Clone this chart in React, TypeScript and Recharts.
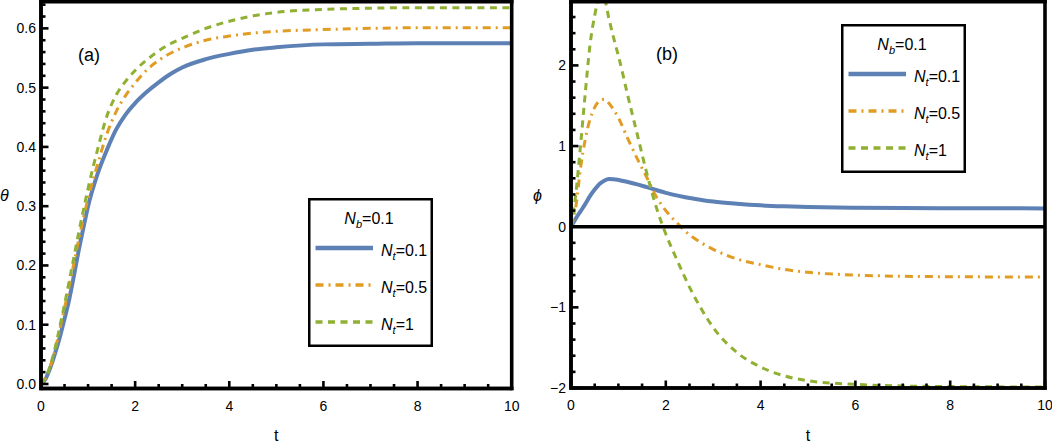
import React from 'react';
import { LineChart, Line, XAxis, YAxis, ReferenceLine, Legend } from 'recharts';

const FONT = "'Liberation Sans', Arial, Helvetica, sans-serif";

// ---- data ----
const tValues = [0, 0.1, 0.2, 0.3, 0.4, 0.5, 0.6, 0.7, 0.8, 0.9, 1, 1.2, 1.4, 1.6, 1.8, 2, 2.25, 2.5, 2.75, 3, 3.5, 4, 4.5, 5, 6, 7, 8, 9, 10];

const thetaNt01 = [0, 0.009, 0.028, 0.052, 0.079, 0.11, 0.143, 0.183, 0.225, 0.263, 0.3, 0.354, 0.395, 0.43, 0.455, 0.474, 0.493, 0.509, 0.523, 0.534, 0.548, 0.557, 0.564, 0.568, 0.573, 0.574, 0.575, 0.575, 0.575];
const thetaNt05 = [0, 0.01, 0.03, 0.058, 0.093, 0.128, 0.166, 0.204, 0.243, 0.28, 0.313, 0.37, 0.422, 0.46, 0.487, 0.508, 0.53, 0.546, 0.558, 0.567, 0.58, 0.587, 0.592, 0.595, 0.598, 0.6, 0.601, 0.601, 0.601];
const thetaNt1 = [0, 0.011, 0.032, 0.061, 0.097, 0.134, 0.174, 0.214, 0.255, 0.293, 0.33, 0.395, 0.452, 0.488, 0.511, 0.529, 0.547, 0.562, 0.574, 0.583, 0.6, 0.612, 0.621, 0.627, 0.632, 0.634, 0.635, 0.635, 0.635];

const phiNt01 = [0, 0.1, 0.19, 0.28, 0.38, 0.46, 0.53, 0.57, 0.59, 0.588, 0.58, 0.555, 0.525, 0.49, 0.455, 0.42, 0.385, 0.355, 0.332, 0.312, 0.285, 0.265, 0.253, 0.245, 0.236, 0.231, 0.229, 0.228, 0.227];
const phiNt05 = [0, 0.24, 0.72, 1.08, 1.33, 1.48, 1.56, 1.58, 1.53, 1.45, 1.35, 1.09, 0.84, 0.61, 0.37, 0.2, 0.04, -0.1, -0.2, -0.28, -0.4, -0.47, -0.53, -0.565, -0.6, -0.615, -0.62, -0.623, -0.625];
const phiNt1 = [0, 0.4, 1.0, 1.65, 2.25, 2.62, 2.85, 2.83, 2.58, 2.34, 2.12, 1.62, 1.14, 0.66, 0.24, -0.09, -0.43, -0.75, -1.02, -1.25, -1.56, -1.74, -1.85, -1.91, -1.955, -1.975, -1.982, -1.986, -1.988];

const xMajorTicks = [0, 2, 4, 6, 8, 10];
const xTickLabels = ['0', '2', '4', '6', '8', '10'];
const thetaMajorTicks = [0, 0.1, 0.2, 0.3, 0.4, 0.5, 0.6];
const thetaTickLabels = ['0.0', '0.1', '0.2', '0.3', '0.4', '0.5', '0.6'];
const phiMajorTicks = [-2, -1, 0, 1, 2];
const phiTickLabels = ['\u22122', '\u22121', '0', '1', '2'];

const ntValues = ['0.1', '0.5', '1'];
const nbValue = '0.1';

const seriesColors = ['#5E81B5', '#E19C24', '#8FB032'];
const seriesDash = [undefined, '8 5 2 5', '7 5.5'];
const seriesWidth = [4, 3, 3];

// ---- derived ----
const thetaData = tValues.map((t, i) => ({ t, a: thetaNt01[i], b: thetaNt05[i], c: thetaNt1[i] }));
const phiData = tValues.map((t, i) => ({ t, a: phiNt01[i], b: phiNt05[i], c: phiNt1[i] }));

const rangeTicks = (start: number, end: number, step: number) => {
  const out: number[] = [];
  for (let i = 0; start + i * step <= end + 1e-9; i++) out.push(+(start + i * step).toFixed(4));
  return out;
};
const xAllTicks = rangeTicks(0, 10, 0.5);
const thetaAllTicks = rangeTicks(0, 0.64, 0.02);
const phiAllTicks = rangeTicks(-2, 2.6, 0.2);

const majorIndex = (majors: number[], v: number) => majors.findIndex((m) => Math.abs(m - v) < 1e-6);

const makeTick = (side: string, majors: number[], labels?: string[]) => (props: any) => {
  const { x, y, payload } = props;
  const idx = majorIndex(majors, payload.value);
  const len = idx >= 0 ? 7.5 : 4.5;
  let x2 = x;
  let y2 = y;
  let label: any = null;
  if (side === 'bottom') {
    y2 = y - len;
    if (idx >= 0 && labels)
      label = (
        <text x={x} y={y + 22} textAnchor="middle" fontSize={14} fontFamily={FONT} fill="#000">
          {labels[idx]}
        </text>
      );
  } else if (side === 'top') {
    y2 = y + len;
  } else if (side === 'left') {
    x2 = x + len;
    if (idx >= 0 && labels)
      label = (
        <text x={x - 5} y={y + 5} textAnchor="end" fontSize={14} fontFamily={FONT} fill="#000">
          {labels[idx]}
        </text>
      );
  } else {
    x2 = x - len;
  }
  return (
    <g>
      <line x1={x} y1={y} x2={x2} y2={y2} stroke="#000" strokeWidth={2.6} />
      {label}
    </g>
  );
};

const LegendBox = (props: any) => {
  const payload = props.payload || [];
  return (
    <svg width={125} height={149} style={{ display: 'block' }}>
      <rect x={1.25} y={1.25} width={122.5} height={146.5} fill="#fff" stroke="#000" strokeWidth={2.5} />
      <text x={61} y={26} textAnchor="middle" fontFamily={FONT} fontSize={16} fill="#000">
        <tspan fontStyle="italic">N</tspan>
        <tspan fontStyle="italic" fontSize={11} dy={4}>b</tspan>
        <tspan dy={-4}>={nbValue}</tspan>
      </text>
      {payload.map((entry: any, i: number) => {
        const cy = 50 + i * 37;
        return (
          <g key={i}>
            <line x1={7.5} x2={65} y1={cy} y2={cy} stroke={entry.color} strokeWidth={seriesWidth[i] + 0.5} strokeDasharray={seriesDash[i]} />
            <text x={73} y={cy + 7.5} fontFamily={FONT} fontSize={16} fill="#000">
              <tspan fontStyle="italic">N</tspan>
              <tspan fontStyle="italic" fontSize={11} dy={4}>t</tspan>
              <tspan dy={-4}>={ntValues[i]}</tspan>
            </text>
          </g>
        );
      })}
    </svg>
  );
};

const axisLineStyle = { stroke: '#000', strokeWidth: 3.5 };
const frameStyle = { stroke: '#000', strokeWidth: 3.6, strokeLinecap: 'square' as const };

function Panel(props: {
  data: any[];
  width: number;
  marginRight: number;
  xAxisHeight: number;
  domain: [number, number];
  yAll: number[];
  yMajors: number[];
  yLabels: string[];
  yName: string;
  yNameOffset: number;
  legendLeft: number;
  legendTop: number;
  zeroLine?: boolean;
}) {
  const p = props;
  return (
    <LineChart width={p.width} height={444} data={p.data} margin={{ top: 1.7, right: p.marginRight, bottom: 0, left: 0 }}>
      <XAxis
        dataKey="t"
        type="number"
        domain={[0, 10]}
        ticks={xAllTicks}
        interval={0}
        height={p.xAxisHeight}
        tickSize={0}
        tickMargin={0}
        tickLine={false}
        axisLine={axisLineStyle}
        tick={makeTick('bottom', xMajorTicks, xTickLabels)}
        label={{ value: 't', position: 'insideBottom', offset: 3, fontSize: 16, fill: '#000', fontFamily: FONT }}
      />
      <XAxis
        xAxisId="top"
        orientation="top"
        dataKey="t"
        type="number"
        domain={[0, 10]}
        ticks={xAllTicks}
        interval={0}
        height={0}
        tickSize={0}
        tickMargin={0}
        tickLine={false}
        axisLine={axisLineStyle}
        tick={makeTick('top', xMajorTicks)}
      />
      <YAxis
        type="number"
        domain={p.domain}
        allowDataOverflow
        ticks={p.yAll}
        interval={0}
        width={41}
        tickSize={0}
        tickMargin={0}
        tickLine={false}
        axisLine={axisLineStyle}
        tick={makeTick('left', p.yMajors, p.yLabels)}
        label={{ value: p.yName, position: 'insideLeft', offset: p.yNameOffset, fontSize: 16, fontStyle: 'italic', fill: '#000', fontFamily: FONT }}
      />
      <YAxis
        yAxisId="r"
        orientation="right"
        type="number"
        domain={p.domain}
        allowDataOverflow
        ticks={p.yAll}
        interval={0}
        width={0}
        tickSize={0}
        tickMargin={0}
        tickLine={false}
        axisLine={axisLineStyle}
        tick={makeTick('right', p.yMajors)}
      />
      {['a', 'b', 'c'].map((k, i) => (
        <Line
          key={k}
          dataKey={k}
          name={'Nt=' + ntValues[i]}
          type="monotone"
          stroke={seriesColors[i]}
          strokeWidth={seriesWidth[i]}
          strokeDasharray={seriesDash[i]}
          dot={false}
          activeDot={false}
          isAnimationActive={false}
        />
      ))}
      {p.zeroLine && <ReferenceLine y={0} stroke="#000" strokeWidth={3.5} />}
      <ReferenceLine x={0} ifOverflow="visible" {...frameStyle} />
      <ReferenceLine x={10} ifOverflow="visible" {...frameStyle} />
      <ReferenceLine y={p.domain[0]} ifOverflow="visible" {...frameStyle} />
      <ReferenceLine y={p.domain[1]} ifOverflow="visible" {...frameStyle} />
      <Legend
        layout="horizontal"
        verticalAlign="middle"
        align="center"
        content={<LegendBox />}
        wrapperStyle={{ left: p.legendLeft, top: p.legendTop, width: 125, height: 149 }}
      />
    </LineChart>
  );
}

export default function App() {
  return (
    <div style={{ position: 'absolute', left: 0, top: 0, width: 1052, height: 444, background: '#fff', overflow: 'hidden' }}>
      <div style={{ position: 'absolute', left: 0, top: 0 }}>
        <Panel
          data={thetaData}
          width={530}
          marginRight={18.3}
          xAxisHeight={55.5}
          domain={[-0.0076, 0.645]}
          yAll={thetaAllTicks}
          yMajors={thetaMajorTicks}
          yLabels={thetaTickLabels}
          yName={'\u03B8'}
          yNameOffset={0}
          legendLeft={307.7}
          legendTop={198.3}
        />
      </div>
      <div style={{ position: 'absolute', left: 530, top: 0 }}>
        <Panel
          data={phiData}
          width={522}
          marginRight={7}
          xAxisHeight={56}
          domain={[-2, 2.79]}
          yAll={phiAllTicks}
          yMajors={phiMajorTicks}
          yLabels={phiTickLabels}
          yName={'\u03D5'}
          yNameOffset={3}
          legendLeft={310.7}
          legendTop={24}
          zeroLine
        />
      </div>
      <svg width={1052} height={444} style={{ position: 'absolute', left: 0, top: 0, pointerEvents: 'none' }}>
        <text x={78} y={61} fontSize={18} fontFamily={FONT} fill="#000">(a)</text>
        <text x={656} y={59.5} fontSize={18} fontFamily={FONT} fill="#000">(b)</text>
      </svg>
    </div>
  );
}
